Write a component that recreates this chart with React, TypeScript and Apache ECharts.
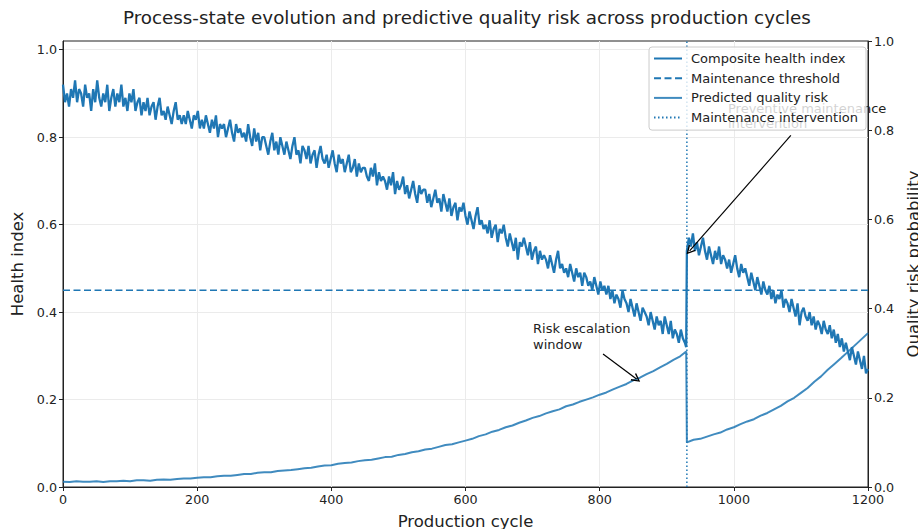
import React, { useEffect, useRef } from "react";
import * as echarts from "echarts";

const FONT = '"DejaVu Sans", "Liberation Sans", sans-serif';

// Composite health index, cycles 0..927 every 3 cycles
const healthPre = [
  0.92, 0.88, 0.90, 0.87, 0.91, 0.89, 0.93, 0.88, 0.91, 0.90,
  0.87, 0.92, 0.89, 0.90, 0.86, 0.91, 0.88, 0.93, 0.89, 0.87,
  0.90, 0.88, 0.92, 0.86, 0.89, 0.91, 0.87, 0.90, 0.88, 0.92,
  0.87, 0.89, 0.86, 0.90, 0.88, 0.91, 0.86, 0.88, 0.89, 0.85,
  0.88, 0.86, 0.89, 0.85, 0.87, 0.88, 0.84, 0.87, 0.89, 0.85,
  0.86, 0.84, 0.87, 0.85, 0.83, 0.86, 0.88, 0.84, 0.85, 0.83,
  0.85, 0.83, 0.86, 0.84, 0.82, 0.85, 0.84, 0.86, 0.82, 0.84,
  0.82, 0.85, 0.83, 0.81, 0.84, 0.82, 0.85, 0.80, 0.83, 0.82,
  0.83, 0.80, 0.82, 0.84, 0.81, 0.79, 0.83, 0.81, 0.82, 0.80,
  0.81, 0.79, 0.83, 0.80, 0.78, 0.82, 0.79, 0.81, 0.77, 0.80,
  0.80, 0.78, 0.76, 0.79, 0.81, 0.77, 0.79, 0.76, 0.80, 0.78,
  0.76, 0.79, 0.77, 0.75, 0.78, 0.80, 0.76, 0.77, 0.74, 0.78,
  0.77, 0.75, 0.78, 0.74, 0.76, 0.77, 0.73, 0.76, 0.78, 0.75,
  0.74, 0.76, 0.73, 0.75, 0.77, 0.74, 0.72, 0.76, 0.74, 0.75,
  0.72, 0.74, 0.76, 0.72, 0.73, 0.75, 0.71, 0.74, 0.72, 0.73,
  0.73, 0.71, 0.70, 0.73, 0.71, 0.74, 0.69, 0.72, 0.70, 0.71,
  0.70, 0.68, 0.71, 0.69, 0.72, 0.67, 0.70, 0.68, 0.69, 0.71,
  0.67, 0.69, 0.66, 0.68, 0.70, 0.67, 0.65, 0.69, 0.67, 0.68,
  0.68, 0.65, 0.67, 0.64, 0.66, 0.68, 0.65, 0.66, 0.63, 0.67,
  0.65, 0.63, 0.66, 0.62, 0.64, 0.65, 0.61, 0.64, 0.63, 0.65,
  0.62, 0.60, 0.63, 0.61, 0.59, 0.62, 0.64, 0.60, 0.61, 0.59,
  0.60, 0.58, 0.61, 0.57, 0.59, 0.60, 0.56, 0.59, 0.58, 0.60,
  0.57, 0.55, 0.58, 0.56, 0.54, 0.57, 0.52, 0.56, 0.55, 0.57,
  0.55, 0.53, 0.56, 0.52, 0.54, 0.55, 0.51, 0.54, 0.52, 0.53,
  0.52, 0.50, 0.53, 0.51, 0.49, 0.52, 0.54, 0.50, 0.51, 0.49,
  0.50, 0.48, 0.51, 0.49, 0.47, 0.50, 0.48, 0.49, 0.46, 0.49,
  0.48, 0.46, 0.47, 0.45, 0.48, 0.46, 0.44, 0.47, 0.45, 0.46,
  0.44, 0.46, 0.43, 0.45, 0.42, 0.44, 0.43, 0.41, 0.45, 0.43,
  0.42, 0.40, 0.43, 0.41, 0.39, 0.42, 0.40, 0.38, 0.41, 0.40,
  0.39, 0.37, 0.40, 0.38, 0.36, 0.39, 0.37, 0.38, 0.35, 0.39,
  0.37, 0.35, 0.38, 0.34, 0.36, 0.35, 0.33, 0.36, 0.34, 0.33,
];
const healthStep = 3;
const healthDipCycle = 929;
const healthDip = 0.32;
// Composite health index after maintenance, cycles 930..1200 every 3 cycles
const healthPost = [
  0.54, 0.57, 0.55, 0.58, 0.54, 0.56, 0.53, 0.55, 0.57, 0.54,
  0.52, 0.55, 0.53, 0.51, 0.54, 0.52, 0.55, 0.51, 0.53, 0.52,
  0.50, 0.52, 0.49, 0.51, 0.53, 0.50, 0.48, 0.51, 0.49, 0.50,
  0.48, 0.46, 0.49, 0.47, 0.45, 0.48, 0.46, 0.44, 0.47, 0.45,
  0.44, 0.46, 0.43, 0.45, 0.42, 0.44, 0.43, 0.45, 0.41, 0.43,
  0.42, 0.40, 0.43, 0.41, 0.39, 0.42, 0.37, 0.40, 0.41, 0.39,
  0.38, 0.40, 0.37, 0.39, 0.36, 0.38, 0.37, 0.35, 0.38, 0.36,
  0.35, 0.37, 0.34, 0.36, 0.33, 0.35, 0.32, 0.34, 0.31, 0.33,
  0.31, 0.29, 0.32, 0.30, 0.28, 0.31, 0.29, 0.27, 0.30, 0.26,
  0.27,
];

// Predicted quality risk, cycles 0..920 every 10 cycles
const riskStep = 10;
const riskPre = [
  0.012, 0.011, 0.013, 0.012, 0.012, 0.013, 0.011, 0.013, 0.013, 0.014,
  0.013, 0.015, 0.015, 0.014, 0.016, 0.017, 0.016, 0.018, 0.019, 0.019,
  0.021, 0.022, 0.022, 0.024, 0.025, 0.025, 0.027, 0.029, 0.029, 0.032,
  0.033, 0.033, 0.036, 0.037, 0.038, 0.040, 0.042, 0.043, 0.046, 0.048,
  0.049, 0.052, 0.054, 0.055, 0.058, 0.060, 0.061, 0.064, 0.067, 0.068,
  0.072, 0.074, 0.078, 0.080, 0.084, 0.086, 0.090, 0.094, 0.096, 0.100,
  0.104, 0.108, 0.114, 0.118, 0.124, 0.128, 0.134, 0.138, 0.144, 0.149,
  0.155, 0.159, 0.165, 0.170, 0.174, 0.181, 0.185, 0.191, 0.196, 0.201,
  0.207, 0.212, 0.219, 0.225, 0.231, 0.239, 0.245, 0.253, 0.260, 0.268,
  0.276, 0.285, 0.293,
];
const riskPeakCycle = 929;
const riskPeak = 0.304;
// Predicted quality risk after maintenance, cycles 930..1200 every 10 cycles
const riskPost = [
  0.100, 0.106, 0.108, 0.113, 0.118, 0.122, 0.129, 0.134, 0.141, 0.147,
  0.152, 0.160, 0.166, 0.174, 0.182, 0.192, 0.200, 0.211, 0.222, 0.236,
  0.248, 0.263, 0.276, 0.289, 0.303, 0.317, 0.331, 0.345,
];

const maintenanceThreshold = 0.45;
const interventionCycle = 930;
const healthTicks = [0, 0.2, 0.4, 0.6, 0.8, 1.0];
const riskTicks = [0, 0.2, 0.4, 0.6, 0.8, 1.0];
const cycleTicks = [0, 200, 400, 600, 800, 1000, 1200];

// annotation anchor points (data coordinates)
const preventiveFrom = [1085, 0.804];
const preventiveTo = [934, 0.54];
const riskFrom = [805, 0.298];
const riskTo = [855, 0.242];

const BLUE = "#1f77b4";
const RISK_BLUE = "rgba(31,119,180,0.85)";
const CHEVRON = "path://M5,0 L10,10 L8.6,10.9 L5,3.2 L1.4,10.9 L0,10 Z";

export default function App() {
  const ref = useRef<HTMLDivElement>(null);

  useEffect(() => {
    if (!ref.current) return;
    const chart = echarts.init(ref.current, null, { renderer: "svg" });

    const healthData: number[][] = [
      ...healthPre.map((v, i) => [i * healthStep, v]),
      [healthDipCycle, healthDip],
      ...healthPost.map((v, i) => [interventionCycle + i * healthStep, v]),
    ];
    const riskData: number[][] = [
      ...riskPre.map((v, i) => [i * riskStep, v]),
      [riskPeakCycle, riskPeak],
      ...riskPost.map((v, i) => [interventionCycle + i * riskStep, v]),
    ];

    const axisColor = "#222";
    const gridColor = "#ebebeb";
    const tickFont = 12.7;
    const nameFont = 16.5;

    chart.setOption({
      animation: false,
      textStyle: { fontFamily: FONT },
      title: {
        text: "Process-state evolution and predictive quality risk across production cycles",
        left: 123,
        top: 8,
        padding: 0,
        textStyle: { fontFamily: FONT, fontSize: 18.3, fontWeight: "normal", color: "#222" },
      },
      grid: {
        left: 63,
        right: 50,
        top: 41,
        bottom: 42,
        containLabel: false,
        outerBoundsMode: "none",
        show: true,
        borderColor: axisColor,
        borderWidth: 1,
        backgroundColor: "transparent",
      },
      legend: {
        orient: "vertical",
        top: 47,
        right: 52,
        padding: [4, 8, 5, 4],
        itemWidth: 28,
        itemHeight: 12,
        itemGap: 4.7,
        backgroundColor: "rgba(255,255,255,0.8)",
        borderColor: "#cccccc",
        borderWidth: 1,
        borderRadius: 3,
        z: 6,
        itemStyle: { opacity: 0 },
        textStyle: {
          fontFamily: FONT,
          fontSize: 13,
          color: "#222",
          lineHeight: 15,
          padding: [0, 0, 0, 4],
        },
        data: [
          "Composite health index",
          "Maintenance threshold",
          "Predicted quality risk",
          "Maintenance intervention",
        ],
      },
      xAxis: {
        type: "value",
        min: 0,
        max: 1200,
        interval: 200,
        name: "Production cycle",
        nameLocation: "middle",
        nameGap: 26,
        nameTextStyle: { fontFamily: FONT, fontSize: nameFont, color: "#222" },
        axisLine: { show: true, lineStyle: { color: axisColor, width: 1 } },
        axisTick: { show: true, length: 4, lineStyle: { color: axisColor }, customValues: cycleTicks },
        axisLabel: {
          fontFamily: FONT,
          fontSize: tickFont,
          color: "#222",
          margin: 6,
          customValues: cycleTicks,
          formatter: (v: number) => String(v),
        },
        splitLine: { show: true, lineStyle: { color: gridColor, width: 1 } },
      },
      yAxis: [
        {
          type: "value",
          min: 0,
          max: 1.02,
          interval: 0.2,
          name: "Health index",
          nameLocation: "middle",
          nameRotate: 90,
          nameGap: 36,
          nameTextStyle: { fontFamily: FONT, fontSize: nameFont, color: "#222" },
          axisLine: { show: true, lineStyle: { color: axisColor, width: 1 } },
          axisTick: { show: true, length: 4, lineStyle: { color: axisColor }, customValues: healthTicks },
          axisLabel: {
            fontFamily: FONT,
            fontSize: tickFont,
            color: "#222",
            margin: 6,
            customValues: healthTicks,
            formatter: (v: number) => v.toFixed(1),
          },
          splitLine: { show: true, lineStyle: { color: gridColor, width: 1 } },
        },
        {
          type: "value",
          min: 0,
          max: 1,
          interval: 0.2,
          position: "right",
          name: "Quality risk probability",
          nameLocation: "middle",
          nameRotate: 90,
          nameGap: 34,
          nameTextStyle: { fontFamily: FONT, fontSize: nameFont, color: "#222" },
          axisLine: { show: true, lineStyle: { color: axisColor, width: 1 } },
          axisTick: { show: true, length: 4, lineStyle: { color: axisColor }, customValues: riskTicks },
          axisLabel: {
            fontFamily: FONT,
            fontSize: tickFont,
            color: "#222",
            margin: 6,
            customValues: riskTicks,
            formatter: (v: number) => v.toFixed(1),
          },
          splitLine: { show: false },
        },
      ],
      graphic: [
        {
          type: "text",
          x: 728,
          y: 101,
          z: 1,
          style: {
            text: "Preventive maintenance\nintervention",
            font: `13px ${FONT}`,
            fill: "#222",
            lineHeight: 15,
            align: "left",
            verticalAlign: "top",
          },
        },
        {
          type: "text",
          x: 533,
          y: 320,
          z: 1,
          style: {
            text: "Risk escalation\nwindow",
            font: `13px ${FONT}`,
            fill: "#222",
            lineHeight: 16,
            align: "left",
            verticalAlign: "top",
          },
        },
      ],
      series: [
        {
          name: "Composite health index",
          type: "line",
          yAxisIndex: 0,
          data: healthData,
          symbol: "none",
          lineStyle: { color: BLUE, width: 2.3 },
          itemStyle: { color: BLUE },
          z: 3,
          markLine: {
            silent: true,
            symbol: ["none", CHEVRON],
            symbolSize: [9, 9],
            label: { show: false },
            lineStyle: { color: "#000", width: 1.2, type: "solid" },
            data: [[{ coord: preventiveFrom }, { coord: preventiveTo }]],
          },
        },
        {
          name: "Maintenance threshold",
          type: "line",
          yAxisIndex: 0,
          data: [
            [0, maintenanceThreshold],
            [1200, maintenanceThreshold],
          ],
          symbol: "none",
          lineStyle: { color: BLUE, width: 1.6, type: [7, 3.5] },
          itemStyle: { color: BLUE },
          z: 2,
        },
        {
          name: "Predicted quality risk",
          type: "line",
          yAxisIndex: 1,
          data: riskData,
          symbol: "none",
          lineStyle: { color: RISK_BLUE, width: 2 },
          itemStyle: { color: RISK_BLUE },
          z: 3,
          markLine: {
            silent: true,
            symbol: ["none", CHEVRON],
            symbolSize: [9, 9],
            label: { show: false },
            lineStyle: { color: "#000", width: 1.2, type: "solid" },
            data: [[{ coord: riskFrom }, { coord: riskTo }]],
          },
        },
        {
          name: "Maintenance intervention",
          type: "line",
          yAxisIndex: 0,
          data: [
            [interventionCycle, 0],
            [interventionCycle, 1.02],
          ],
          symbol: "none",
          lineStyle: { color: BLUE, width: 1.5, type: [1.5, 2.5] },
          itemStyle: { color: BLUE },
          z: 2,
        },
      ],
    });

    return () => chart.dispose();
  }, []);

  return (
    <div
      ref={ref}
      style={{ position: "absolute", left: 0, top: 0, width: 918, height: 529, background: "#fff" }}
    />
  );
}
